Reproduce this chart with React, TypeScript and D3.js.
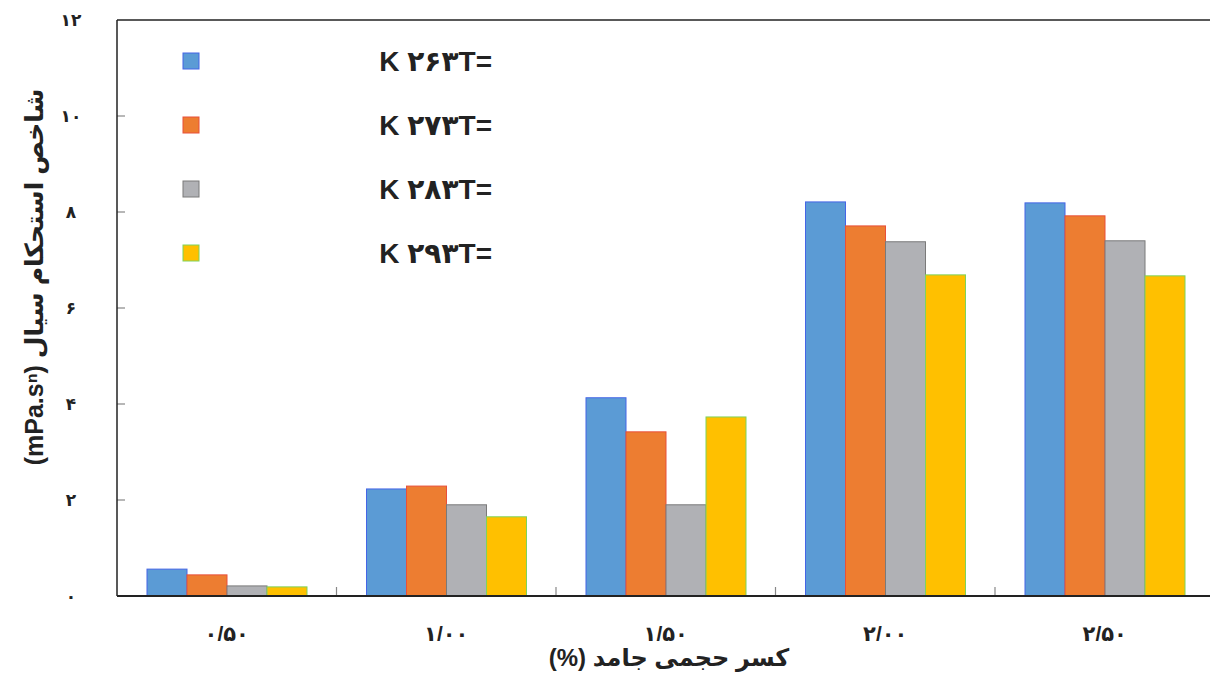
import React from 'react';
import * as d3 from 'd3';

// Solid volume fraction (%) categories
const categories = ['۰/۵۰', '۱/۰۰', '۱/۵۰', '۲/۰۰', '۲/۵۰'];

// Series: fluid consistency index at each temperature
const seriesLabels = ['K ۲۶۳T=', 'K ۲۷۳T=', 'K ۲۸۳T=', 'K ۲۹۳T='];
const t263 = [0.56, 2.23, 4.13, 8.21, 8.19];
const t273 = [0.44, 2.29, 3.42, 7.71, 7.92];
const t283 = [0.21, 1.9, 1.9, 7.38, 7.4];
const t293 = [0.19, 1.65, 3.73, 6.69, 6.67];
const seriesValues = [t263, t273, t283, t293];

const fills = ['#5b9bd5', '#ed7d31', '#b0b1b5', '#ffc000'];
const strokes = ['#4565e6', '#e8503a', '#7a7a7a', '#7fd35a'];

const yTicks = [0, 2, 4, 6, 8, 10, 12];
const yTickLabels = ['۰', '۲', '۴', '۶', '۸', '۱۰', '۱۲'];

const W = 1210;
const H = 677;
const plot = { left: 117, right: 1214.5, top: 20, bottom: 596 };

const FONT = "'Liberation Sans', Arial, 'DejaVu Sans', sans-serif";

export default function App() {
  const x = d3
    .scaleBand<string>()
    .domain(categories)
    .range([plot.left, plot.right])
    .paddingInner(0)
    .paddingOuter(0);
  const sub = d3
    .scaleBand<number>()
    .domain(d3.range(seriesValues.length))
    .range([30, x.bandwidth() - 29.5])
    .padding(0);
  const y = d3.scaleLinear().domain([0, 12]).range([plot.bottom, plot.top]);

  const legendRow = d3.scaleLinear().domain([0, 1]).range([61, 125]);

  return (
    <svg
      width={W}
      height={H}
      style={{ position: 'absolute', left: 0, top: 0, background: '#fff' }}
      fontFamily={FONT}
    >
      <rect x={0} y={0} width={W} height={H} fill="#fff" />

      {/* bars */}
      {seriesValues.map((vals, si) =>
        vals.map((v, ci) => (
          <rect
            key={`b-${si}-${ci}`}
            x={(x(categories[ci]) as number) + (sub(si) as number)}
            y={y(v)}
            width={sub.bandwidth()}
            height={y(0) - y(v)}
            fill={fills[si]}
            stroke={strokes[si]}
            strokeWidth={1}
          />
        ))
      )}

      {/* inner y ticks */}
      {yTicks.slice(1, -1).map((t) => (
        <line
          key={`yt-${t}`}
          x1={plot.left}
          x2={plot.left + 8}
          y1={y(t)}
          y2={y(t)}
          stroke="#888"
          strokeWidth={1.2}
        />
      ))}

      {/* category separator ticks */}
      {categories.slice(1).map((c) => (
        <line
          key={`xt-${c}`}
          x1={x(c) as number}
          x2={x(c) as number}
          y1={plot.bottom}
          y2={plot.bottom - 9}
          stroke="#888"
          strokeWidth={1.2}
        />
      ))}

      {/* frame */}
      <line x1={plot.left} x2={W} y1={plot.top} y2={plot.top} stroke="#222" strokeWidth={1.5} />
      <line x1={plot.left} x2={plot.left} y1={plot.top} y2={plot.bottom} stroke="#222" strokeWidth={1.5} />
      <line x1={plot.left} x2={W} y1={plot.bottom} y2={plot.bottom} stroke="#222" strokeWidth={2} />

      {/* y tick labels */}
      {yTicks.map((t, i) => (
        <text
          key={`yl-${t}`}
          x={71}
          y={y(t)}
          dy="0.35em"
          textAnchor="middle"
          fontSize={17}
          fontWeight="bold"
          fill="#222"
        >
          {yTickLabels[i]}
        </text>
      ))}

      {/* x tick labels */}
      {categories.map((c) => (
        <text
          key={`xl-${c}`}
          x={(x(c) as number) + x.bandwidth() / 2}
          y={641}
          textAnchor="middle"
          fontSize={21}
          fontWeight="bold"
          fill="#222"
          direction="ltr"
        >
          {c}
        </text>
      ))}

      {/* axis titles */}
      <text
        x={669}
        y={666}
        textAnchor="middle"
        fontSize={24}
        fontWeight="bold"
        fill="#222"
        direction="rtl"
      >
        کسر حجمی جامد (%)
      </text>
      <text
        transform="translate(43,277) rotate(-90)"
        textAnchor="middle"
        fontSize={25}
        fontWeight="bold"
        fill="#222"
        direction="rtl"
      >
        شاخص استحکام سیال (mPa.sⁿ)
      </text>

      {/* legend */}
      {seriesLabels.map((lab, i) => {
        const cy = legendRow(i);
        return (
          <g key={`lg-${i}`}>
            <rect
              x={183}
              y={cy - 8}
              width={16}
              height={16}
              fill={fills[i]}
              stroke={strokes[i]}
              strokeWidth={1}
            />
            <text
              x={492}
              y={cy + 10}
              textAnchor="end"
              fontSize={28}
              fontWeight="bold"
              fill="#222"
              direction="ltr"
            >
              {lab}
            </text>
          </g>
        );
      })}
    </svg>
  );
}
